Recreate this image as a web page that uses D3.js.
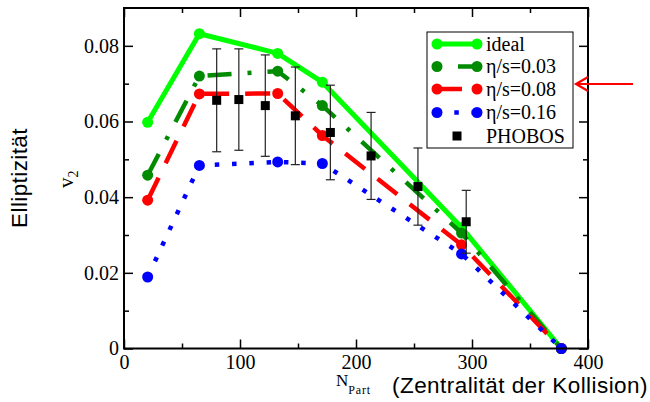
<!DOCTYPE html>
<html>
<head>
<meta charset="utf-8">
<script src="https://cdn.jsdelivr.net/npm/d3@7"></script>
<style>
  body { margin: 0; background: #fff; }
  svg { display: block; }
</style>
</head>
<body>
<div id="chart"></div>
<script>
// values
var nPart = [20.4, 65, 132.5, 171, 291, 377];
var v2Ideal = [0.0598, 0.0832, 0.078, 0.0704, 0.032, 0];
var v2Eta003 = [0.0458, 0.072, 0.0733, 0.0642, 0.0305, 0];
var v2Eta008 = [0.0392, 0.0673, 0.0674, 0.0563, 0.0274, 0];
var v2Eta016 = [0.0189, 0.0484, 0.0493, 0.0489, 0.0250, 0];

var phobosN = [79.9, 99, 121.8, 147.7, 177.9, 213, 253.4, 295];
var phobosV2 = [0.0656, 0.0658, 0.0642, 0.0615, 0.0571, 0.0509, 0.0428, 0.0335];
var phobosErr = [0.0136, 0.0134, 0.0134, 0.0129, 0.0125, 0.0115, 0.0102, 0.0083];

var xTicks = [0, 100, 200, 300, 400];
var xMinor = [50, 150, 250, 350];
var yTicks = [0, 0.02, 0.04, 0.06, 0.08];
var yMinor = [0.01, 0.03, 0.05, 0.07];

var seriesNames = ["ideal", "η/s=0.03", "η/s=0.08", "η/s=0.16"];

var svgWidth = 650, svgHeight = 402;
var margin = { top: 8, left: 124, right: 62, bottom: 53.5 };
var width = svgWidth - margin.left - margin.right;
var height = svgHeight - margin.top - margin.bottom;

var svg = d3.select("#chart").append("svg")
  .attr("width", svgWidth)
  .attr("height", svgHeight);

var chartGroup = svg.append("g")
  .attr("transform", `translate(${margin.left}, ${margin.top})`);

var xScale = d3.scaleLinear().domain([0, 400]).range([0, width]);
var yScale = d3.scaleLinear().domain([0, 0.09]).range([height, 0]);

var serif = "'Liberation Serif', 'Times New Roman', serif";
var sans = "'Liberation Sans', Arial, sans-serif";

// axes with inward ticks on all four sides
function styleAxis(g) {
  g.attr("font-family", serif);
  g.select(".domain").remove();
  g.selectAll(".tick line").attr("stroke", "#000").attr("stroke-width", 1.5);
  g.selectAll("text").attr("font-family", serif).attr("font-size", 20).attr("fill", "#000");
}

chartGroup.append("g")
  .attr("transform", `translate(0, ${height})`)
  .call(d3.axisBottom(xScale).tickValues(xTicks).tickSizeInner(-9).tickSizeOuter(0).tickPadding(6).tickFormat(d3.format("d")))
  .call(styleAxis);
chartGroup.append("g")
  .attr("transform", `translate(0, ${height})`)
  .call(d3.axisBottom(xScale).tickValues(xMinor).tickSizeInner(-5).tickSizeOuter(0).tickFormat(""))
  .call(styleAxis);
chartGroup.append("g")
  .call(d3.axisTop(xScale).tickValues(xTicks).tickSizeInner(-9).tickSizeOuter(0).tickFormat(""))
  .call(styleAxis);
chartGroup.append("g")
  .call(d3.axisTop(xScale).tickValues(xMinor).tickSizeInner(-5).tickSizeOuter(0).tickFormat(""))
  .call(styleAxis);

chartGroup.append("g")
  .call(d3.axisLeft(yScale).tickValues(yTicks).tickSizeInner(-9).tickSizeOuter(0).tickPadding(5)
    .tickFormat(d => d === 0 ? "0" : d3.format(".2f")(d)))
  .call(styleAxis);
chartGroup.append("g")
  .call(d3.axisLeft(yScale).tickValues(yMinor).tickSizeInner(-5).tickSizeOuter(0).tickFormat(""))
  .call(styleAxis);
chartGroup.append("g")
  .attr("transform", `translate(${width}, 0)`)
  .call(d3.axisRight(yScale).tickValues(yTicks).tickSizeInner(-9).tickSizeOuter(0).tickFormat(""))
  .call(styleAxis);
chartGroup.append("g")
  .attr("transform", `translate(${width}, 0)`)
  .call(d3.axisRight(yScale).tickValues(yMinor).tickSizeInner(-5).tickSizeOuter(0).tickFormat(""))
  .call(styleAxis);

// series
var seriesStyles = [
  { values: v2Ideal, color: "#00ff00", width: 5, dash: null, offset: 0 },
  { values: v2Eta003, color: "#008b00", width: 4.5, dash: "24,16,4,16", offset: 39 },
  { values: v2Eta008, color: "#ff0000", width: 4.5, dash: "25,16", offset: 0 },
  { values: v2Eta016, color: "#0000ff", width: 4.5, dash: "4.5,12.8", offset: 0 }
];

var line = d3.line()
  .x(d => xScale(d[0]))
  .y(d => yScale(d[1]));

var plot = chartGroup.append("g");

seriesStyles.forEach(function(s) {
  var pts = nPart.map((n, i) => [n, s.values[i]]);
  plot.append("path")
    .datum(pts)
    .attr("d", line)
    .attr("fill", "none")
    .attr("stroke", s.color)
    .attr("stroke-width", s.width)
    .attr("stroke-linejoin", "round")
    .attr("stroke-dasharray", s.dash);
  plot.selectAll(null)
    .data(pts)
    .enter()
    .append("circle")
    .attr("cx", d => xScale(d[0]))
    .attr("cy", d => yScale(d[1]))
    .attr("r", 5.5)
    .attr("fill", s.color);
});

// PHOBOS with error bars
var phobos = phobosN.map((n, i) => ({ n: n, v: phobosV2[i], e: phobosErr[i] }));
var bars = plot.selectAll(".err").data(phobos).enter().append("g").attr("class", "err");
bars.append("line")
  .attr("x1", d => xScale(d.n)).attr("x2", d => xScale(d.n))
  .attr("y1", d => yScale(d.v + d.e)).attr("y2", d => yScale(d.v - d.e))
  .attr("stroke", "#222").attr("stroke-width", 1.2);
bars.append("line")
  .attr("x1", d => xScale(d.n) - 4.5).attr("x2", d => xScale(d.n) + 4.5)
  .attr("y1", d => yScale(d.v + d.e)).attr("y2", d => yScale(d.v + d.e))
  .attr("stroke", "#222").attr("stroke-width", 1.2);
bars.append("line")
  .attr("x1", d => xScale(d.n) - 4.5).attr("x2", d => xScale(d.n) + 4.5)
  .attr("y1", d => yScale(d.v - d.e)).attr("y2", d => yScale(d.v - d.e))
  .attr("stroke", "#222").attr("stroke-width", 1.2);
plot.selectAll(".sq").data(phobos).enter().append("rect")
  .attr("x", d => xScale(d.n) - 4.5)
  .attr("y", d => yScale(d.v) - 4.5)
  .attr("width", 9).attr("height", 9)
  .attr("fill", "#000");

// frame
chartGroup.append("rect")
  .attr("width", width).attr("height", height)
  .attr("fill", "none").attr("stroke", "#000").attr("stroke-width", 2);

// legend
var legend = svg.append("g").attr("transform", "translate(427, 32)");
legend.append("rect")
  .attr("width", 146).attr("height", 116)
  .attr("fill", "#fff").attr("stroke", "#000").attr("stroke-width", 1);

var rowY = [12, 34.5, 57, 80.5, 104];
seriesStyles.forEach(function(s, i) {
  var row = legend.append("g").attr("transform", `translate(0, ${rowY[i]})`);
  row.append("line")
    .attr("x1", 10).attr("x2", 50)
    .attr("stroke", s.color).attr("stroke-width", s.width)
    .attr("stroke-dasharray", s.dash)
    .attr("stroke-dashoffset", s.offset);
  row.selectAll(null).data([10, 50]).enter().append("circle")
    .attr("cx", d => d).attr("r", 5.5).attr("fill", s.color);
  row.append("text")
    .attr("x", 59).attr("dy", "0.33em")
    .attr("font-family", serif).attr("font-size", 20)
    .text(seriesNames[i]);
});
var phRow = legend.append("g").attr("transform", `translate(0, ${rowY[4]})`);
phRow.append("rect").attr("x", 25.5).attr("y", -4.5).attr("width", 9).attr("height", 9).attr("fill", "#000");
phRow.append("text")
  .attr("x", 59).attr("dy", "0.33em")
  .attr("font-family", serif).attr("font-size", 20)
  .text("PHOBOS");

// red arrow pointing at the legend
svg.append("path")
  .attr("d", "M576,84 L633,84 M588,77 L576,84 L588,91")
  .attr("fill", "none").attr("stroke", "#ff0000").attr("stroke-width", 2.2);

// axis titles
svg.append("text")
  .attr("transform", "translate(27, 178) rotate(-90)")
  .attr("text-anchor", "middle")
  .attr("font-family", sans).attr("font-size", 22.5)
  .attr("letter-spacing", 0.4)
  .text("Elliptizität");

var vLabel = svg.append("text")
  .attr("transform", "translate(73, 188) rotate(-90)")
  .attr("font-family", serif).attr("font-size", 21);
vLabel.append("tspan").text("v");
vLabel.append("tspan").attr("font-size", 14).attr("dy", 5).text("2");

var nLabel = svg.append("text")
  .attr("x", 336).attr("y", 386)
  .attr("font-family", serif).attr("font-size", 17);
nLabel.append("tspan").text("N");
nLabel.append("tspan").attr("font-size", 12).attr("dy", 8).attr("letter-spacing", 0.8).text("Part");

svg.append("text")
  .attr("x", 392).attr("y", 393)
  .attr("font-family", sans).attr("font-size", 22.5)
  .attr("letter-spacing", 0.45)
  .text("(Zentralität der Kollision)");
</script>
</body>
</html>
